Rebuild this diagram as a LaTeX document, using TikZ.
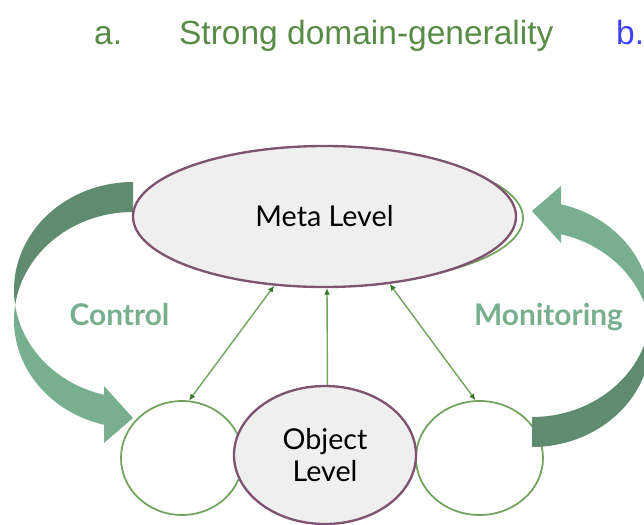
\documentclass[tikz,border=0pt]{standalone}
\usepackage{fontspec}
\setmainfont{Lato}
\newfontfamily\titlefont{Liberation Sans}
\usepackage{tikz}
\usetikzlibrary{arrows.meta,shapes.geometric}
\definecolor{metafill}{RGB}{239,239,239}
\definecolor{levelborder}{RGB}{126,84,112}
\definecolor{ringgreen}{RGB}{112,163,92}
\definecolor{tipgreen}{RGB}{58,120,40}
\definecolor{arrowdark}{RGB}{95,139,111}
\definecolor{arrowlight}{RGB}{120,176,143}
\definecolor{titlegreen}{RGB}{88,140,70}
\definecolor{titleblue}{RGB}{64,64,255}
\newcommand{\bentarrow}[1]{%
  \begin{scope}[#1]
    \fill[arrowdark] (133,-182) arc[start angle=90,end angle=187.98,x radius=119,y radius=108]
      arc[start angle=172.02,end angle=90,x radius=119,y radius=108] -- cycle;
    \fill[arrowlight] (15.15,-305) arc[start angle=172.02,end angle=255.9,x radius=119,y radius=108]
      -- (104,-443) -- (133,-418) -- (104,-386) -- (104,-394.75)
      arc[start angle=255.9,end angle=187.98,x radius=119,y radius=108] -- cycle;
  \end{scope}%
}

\begin{document}
\begin{tikzpicture}[x=0.03cm,y=0.03cm,
  levelnode/.style={ellipse,draw=levelborder,fill=metafill,line width=2pt,inner sep=0pt,
    align=center,font=\fontsize{24.5}{28}\selectfont},
  blanknode/.style={ellipse,draw=ringgreen,fill=white,line width=1.5pt,inner sep=0pt},
  linkline/.style={draw=ringgreen,line width=1.2pt,>={Latex[length=5.5pt,width=5pt,color=tipgreen]}},
  looplabel/.style={text=arrowlight,font=\bfseries\fontsize{25.5}{29}\selectfont,anchor=base},
  titletext/.style={font=\titlefont\fontsize{28.6}{32}\selectfont,anchor=base west}]
  \clip (0,0) rectangle (644,-524);
  \node[titletext,text=titlegreen] (tla) at (90,-44) {a.};
  \node[titletext,text=titlegreen] (tlb) at (175,-44) {Strong domain-generality};
  \node[titletext,text=titleblue] (tlc) at (612,-44) {b.};
  \draw[ringgreen,line width=1.5pt] (333,-218) ellipse[x radius=190,y radius=66];
  \bentarrow{}
  \node[blanknode,minimum width=3.66cm,minimum height=3.42cm] (lc) at (182,-458) {};
  \node[blanknode,minimum width=3.81cm,minimum height=3.42cm] (rc) at (479.5,-458) {};
  \bentarrow{rotate around={180:(332.5,-314.5)}}
  \node[levelnode,minimum width=5.46cm,minimum height=4.14cm] (obj) at (325,-455) {Object\\Level};
  \node[levelnode,minimum width=11.49cm,minimum height=4.23cm] (meta) at (324.5,-216.5) {Meta Level};
  \draw[linkline,<->] (meta.234) -- (lc.83);
  \draw[linkline,->] (obj.88) -- (meta.272);
  \draw[linkline,<->] (meta.314.6) -- (rc.94);
  \node[looplabel] (ctl) at (119.5,-325) {Control};
  \node[looplabel] (mon) at (548.5,-325) {Monitoring};
\end{tikzpicture}
\end{document}
